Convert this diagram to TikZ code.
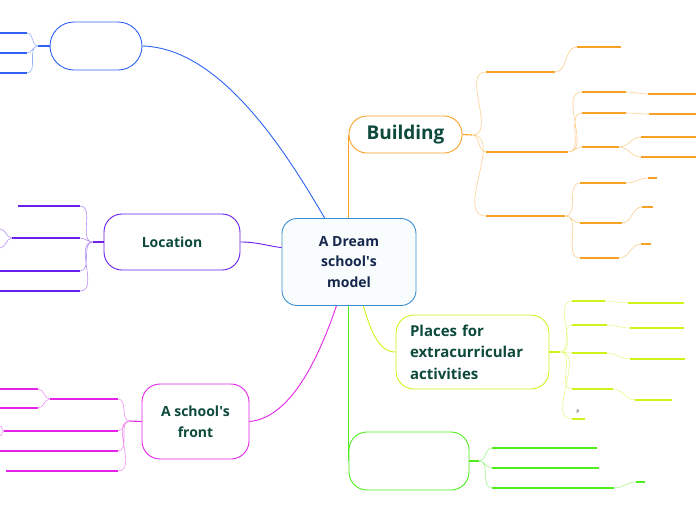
\documentclass[tikz,border=0pt]{standalone}
\usepackage{fontspec}
\setmainfont{Open Sans}
\usetikzlibrary{positioning}
\definecolor{hubline}{HTML}{3B8ED0}
\definecolor{hubfill}{HTML}{F8FCFD}
\definecolor{hubtext}{HTML}{15264D}
\definecolor{topictext}{HTML}{0E4A3B}
\definecolor{cblue}{HTML}{2E63F5}
\definecolor{cpurple}{HTML}{6A20EC}
\definecolor{cmagenta}{HTML}{E522E8}
\definecolor{corange}{HTML}{F7A125}
\definecolor{clime}{HTML}{D2F01A}
\definecolor{cgreen}{HTML}{4DEE1C}
\tikzset{
  hub/.style={draw=hubline, fill=hubfill, line width=0.9pt, rounded corners=15pt, minimum width=134pt, minimum height=87pt, inner sep=0pt, align=center, text=hubtext, font=\bfseries\fontsize{14}{20.5}\selectfont},
  topic/.style={draw=#1, fill=white, line width=0.9pt, rounded corners=18pt, inner sep=0pt, align=center, text=topictext, font=\bfseries\fontsize{14}{21}\selectfont},
  limb/.style={draw=#1, line width=0.9pt},
  stem/.style={draw=#1, line width=1.1pt},
  twig/.style={draw=#1!50, line width=0.6pt}
}

\begin{document}
\begin{tikzpicture}[x=1pt, y=-1pt]
\useasboundingbox (0,0) rectangle (696,520);

% main nodes
\node[hub] (hub) at (349,262) {A Dream\\school\textquotesingle s\\ model};
\node[topic=cblue, minimum width=92pt, minimum height=48pt, rounded corners=24pt] (blank) at (96,46) {};
\node[topic=cpurple, minimum width=136pt, minimum height=56pt] (loc) at (172,242) {Location};
\node[topic=cmagenta, minimum width=107pt, minimum height=75pt] (front) at (195.5,421.5) {A school\textquotesingle s\\front};
\node[topic=corange, minimum width=113pt, minimum height=37pt, font=\bfseries\fontsize{19}{23}\selectfont] (build) at (405.5,134.5) {Building};
\node[topic=clime, minimum width=153pt, minimum height=74pt, text width=125pt, align=left, font=\bfseries\fontsize{15}{21.5}\selectfont] (places) at (472.5,352) {Places for\\extracurricular\\activities};
\node[topic=cgreen, minimum width=120pt, minimum height=58pt] (yard) at (409,461) {};

% hub to topics
\draw[limb=cblue] (blank.east) .. controls (220,48) and (285,150) .. (hub.119);
\draw[limb=cpurple] (loc.east) to[out=0, in=172] (hub.168);
\draw[limb=cmagenta] (front.east) .. controls (290,418) and (318,360) .. (hub.254);
\draw[limb=corange] (build.west) -- (build.west |- hub.north);
\draw[limb=clime] (hub.288) .. controls (372,335) and (380,352) .. (places.west);
\draw[limb=cgreen] (hub.south -| yard.west) -- (yard.west);

% blank topic, left
\coordinate (jA) at (38,46);
\coordinate (a1) at (27,33); \coordinate (a1e) at (0,33);
\coordinate (a2) at (27,53); \coordinate (a2e) at (0,53);
\coordinate (a3) at (27,73); \coordinate (a3e) at (0,73);
\draw[stem=cblue] (blank.west) -- (jA);
\draw[twig=cblue, out=180, in=0] (jA) to (a1) (jA) to (a2) (jA) to (a3);
\draw[stem=cblue] (a1) -- (a1e) (a2) -- (a2e) (a3) -- (a3e);

% Location, left
\coordinate (jL) at (93,242);
\coordinate (l1) at (80,206); \coordinate (l1e) at (18,206);
\coordinate (l2) at (80,238); \coordinate (l2e) at (12,238);
\coordinate (l3) at (80,271); \coordinate (l3e) at (0,271);
\coordinate (l4) at (80,291); \coordinate (l4e) at (0,291);
\coordinate (l21) at (0,229); \coordinate (l22) at (0,248);
\draw[stem=cpurple] (loc.west) -- (jL);
\draw[twig=cpurple, out=180, in=0] (jL) to (l1) (jL) to (l2) (jL) to (l3) (jL) to (l4);
\draw[stem=cpurple] (l1) -- (l1e) (l2) -- (l2e) (l3) -- (l3e) (l4) -- (l4e);
\draw[twig=cpurple, out=180, in=0] (l2e) to (l21) (l2e) to (l22);

% A school's front, left
\coordinate (jF) at (130,421);
\coordinate (f1) at (118,399); \coordinate (f1e) at (50,399);
\coordinate (f2) at (118,431); \coordinate (f2e) at (4,431);
\coordinate (f3) at (118,451); \coordinate (f3e) at (0,451);
\coordinate (f4) at (118,471); \coordinate (f4e) at (6,471);
\coordinate (f11) at (38,389); \coordinate (f11e) at (0,389);
\coordinate (f12) at (38,408); \coordinate (f12e) at (0,408);
\coordinate (f21) at (0,426); \coordinate (f22) at (0,436);
\draw[stem=cmagenta] (front.west) -- (jF);
\draw[twig=cmagenta, out=180, in=0] (jF) to (f1) (jF) to (f2) (jF) to (f3) (jF) to (f4);
\draw[stem=cmagenta] (f1) -- (f1e) (f2) -- (f2e) (f3) -- (f3e) (f4) -- (f4e);
\draw[twig=cmagenta, out=180, in=0] (f1e) to (f11) (f1e) to (f12) (f2e) to (f21) (f2e) to (f22);
\draw[stem=cmagenta] (f11) -- (f11e) (f12) -- (f12e);

% Building, right
\coordinate (jB) at (472,135);
\coordinate (b1) at (486,72); \coordinate (b1e) at (555,72);
\coordinate (b2) at (486,152); \coordinate (b2e) at (568,152);
\coordinate (b3) at (486,216); \coordinate (b3e) at (565,216);
\coordinate (b11) at (577,47); \coordinate (b11e) at (621,47);
\coordinate (b21) at (582,92); \coordinate (b21e) at (626,92);
\coordinate (b22) at (582,113); \coordinate (b22e) at (626,113);
\coordinate (b23) at (582,147); \coordinate (b23e) at (619,147);
\coordinate (b211) at (648,94); \coordinate (b211e) at (696,94);
\coordinate (b221) at (649,114); \coordinate (b221e) at (696,114);
\coordinate (b231) at (641,137); \coordinate (b231e) at (696,137);
\coordinate (b232) at (641,157); \coordinate (b232e) at (696,157);
\coordinate (b31) at (580,183); \coordinate (b31e) at (626,183);
\coordinate (b32) at (580,223); \coordinate (b32e) at (622,223);
\coordinate (b33) at (580,258); \coordinate (b33e) at (619,258);
\coordinate (b311) at (648,178); \coordinate (b311e) at (657,178);
\coordinate (b321) at (642,207); \coordinate (b321e) at (653,207);
\coordinate (b331) at (641,244); \coordinate (b331e) at (651,244);
\draw[stem=corange] (build.east) -- (jB);
\draw[twig=corange, out=0, in=180] (jB) to (b1) (jB) to (b2) (jB) to (b3);
\draw[stem=corange] (b1) -- (b1e) (b2) -- (b2e) (b3) -- (b3e);
\draw[twig=corange, out=0, in=180] (b1e) to (b11) (b2e) to (b21) (b2e) to (b22) (b2e) to (b23)
  (b3e) to (b31) (b3e) to (b32) (b3e) to (b33);
\draw[stem=corange] (b11) -- (b11e) (b21) -- (b21e) (b22) -- (b22e) (b23) -- (b23e)
  (b31) -- (b31e) (b32) -- (b32e) (b33) -- (b33e);
\draw[twig=corange, out=0, in=180] (b21e) to (b211) (b22e) to (b221) (b23e) to (b231) (b23e) to (b232)
  (b31e) to (b311) (b32e) to (b321) (b33e) to (b331);
\draw[stem=corange] (b211) -- (b211e) (b221) -- (b221e) (b231) -- (b231e) (b232) -- (b232e)
  (b311) -- (b311e) (b321) -- (b321e) (b331) -- (b331e);

% Places for extracurricular activities, right
\coordinate (jP) at (560,352);
\coordinate (p1) at (572,301); \coordinate (p1e) at (605,301);
\coordinate (p2) at (572,325); \coordinate (p2e) at (607,325);
\coordinate (p3) at (572,353); \coordinate (p3e) at (607,353);
\coordinate (p4) at (572,389); \coordinate (p4e) at (613,389);
\coordinate (p5) at (572,419); \coordinate (p5e) at (585,419);
\coordinate (p11) at (628,303); \coordinate (p11e) at (684,303);
\coordinate (p21) at (630,328); \coordinate (p21e) at (684,328);
\coordinate (p31) at (630,359); \coordinate (p31e) at (685,359);
\coordinate (p41) at (635,400); \coordinate (p41e) at (672,400);
\draw[stem=clime] (places.east) -- (jP);
\draw[twig=clime, out=0, in=180] (jP) to (p1) (jP) to (p2) (jP) to (p3) (jP) to (p4) (jP) to (p5);
\draw[stem=clime] (p1) -- (p1e) (p2) -- (p2e) (p3) -- (p3e) (p4) -- (p4e) (p5) -- (p5e);
\draw[twig=clime, out=0, in=180] (p1e) to (p11) (p2e) to (p21) (p3e) to (p31) (p4e) to (p41);
\draw[stem=clime] (p11) -- (p11e) (p21) -- (p21e) (p31) -- (p31e) (p41) -- (p41e);
\node[text=gray, font=\bfseries\fontsize{5}{5}\selectfont, inner sep=0pt] (ptag) at (578,412) {P};

% blank green topic, right
\coordinate (jG) at (479,461);
\coordinate (g1) at (492,448); \coordinate (g1e) at (597,448);
\coordinate (g2) at (492,468); \coordinate (g2e) at (599,468);
\coordinate (g3) at (492,488); \coordinate (g3e) at (614,488);
\coordinate (g31) at (636,482); \coordinate (g31e) at (645,482);
\draw[stem=cgreen] (yard.east) -- (jG);
\draw[twig=cgreen, out=0, in=180] (jG) to (g1) (jG) to (g2) (jG) to (g3) (g3e) to (g31);
\draw[stem=cgreen] (g1) -- (g1e) (g2) -- (g2e) (g3) -- (g3e) (g31) -- (g31e);

\end{tikzpicture}
\end{document}
